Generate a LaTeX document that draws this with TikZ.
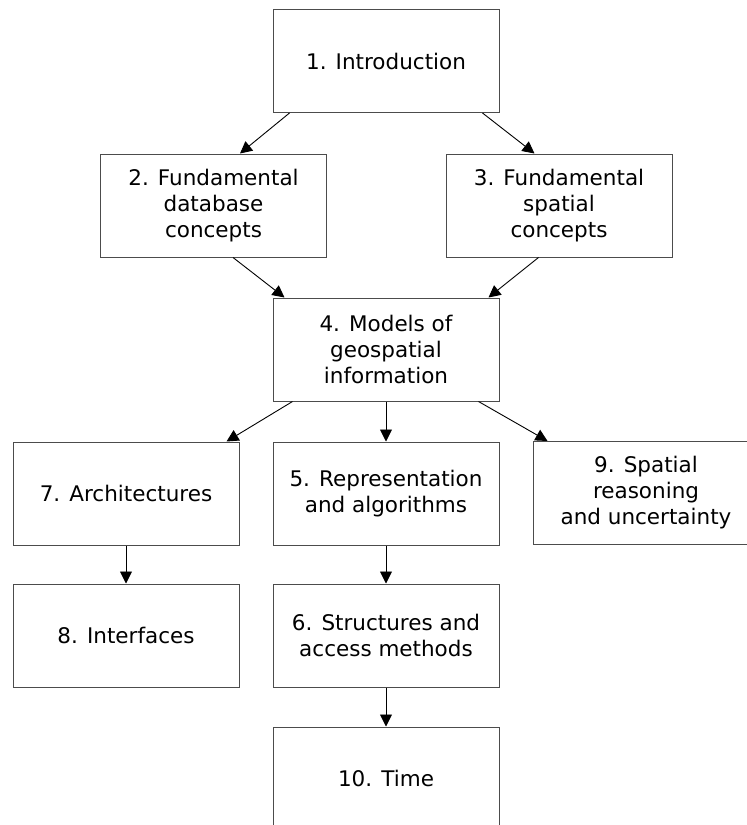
\documentclass[tikz,border=0pt]{standalone}
\usepackage{fontspec}
\setmainfont{DejaVu Sans}
\usetikzlibrary{arrows.meta,calc}
\begin{document}
\begin{tikzpicture}[x=1pt,y=-1pt,
  box/.style={draw=black!70,line width=1pt,rectangle,minimum width=226pt,minimum height=103pt,
    inner sep=0pt,align=center,font=\fontsize{21.5}{26}\selectfont},
  arr/.style={draw=black,line width=0.9pt,-{Triangle[width=12pt,length=12pt]}}]
\useasboundingbox (0,0) rectangle (747,825);
\node[box] (n1) at (386,61) {1. Introduction};
\node[box] (n2) at (213.5,205.5) {2. Fundamental\\database\\concepts};
\node[box] (n3) at (559,205.5) {3. Fundamental\\spatial\\concepts};
\node[box] (n4) at (386,349.5) {4. Models of\\geospatial\\information};
\node[box] (n7) at (126,493.5) {7. Architectures};
\node[box] (n5) at (386,493.5) {5. Representation\\and algorithms};
\node[box] (n9) at (646,493) {9. Spatial\\reasoning\\and uncertainty};
\node[box] (n8) at (126,635.5) {8. Interfaces};
\node[box] (n6) at (386,635.5) {6. Structures and\\access methods};
\node[box] (n10) at (386,778.5) {10. Time};
\draw[arr] ($(n1.south west)+(17,0)$) -- ($(n2.north east)+(-87,0)$);
\draw[arr] ($(n1.south east)+(-17,0)$) -- ($(n3.north west)+(89,0)$);
\draw[arr] ($(n2.south east)+(-94,0)$) -- ($(n4.north west)+(12,0)$);
\draw[arr] ($(n3.south west)+(93,0)$) -- ($(n4.north east)+(-11,0)$);
\draw[arr] ($(n4.south west)+(20,0)$) -- ($(n7.north east)+(-13,0)$);
\draw[arr] (n4.south) -- (n5.north);
\draw[arr] ($(n4.south east)+(-21,0)$) -- ($(n9.north west)+(15,0)$);
\draw[arr] (n7.south) -- (n8.north);
\draw[arr] (n5.south) -- (n6.north);
\draw[arr] (n6.south) -- (n10.north);
\end{tikzpicture}
\end{document}
